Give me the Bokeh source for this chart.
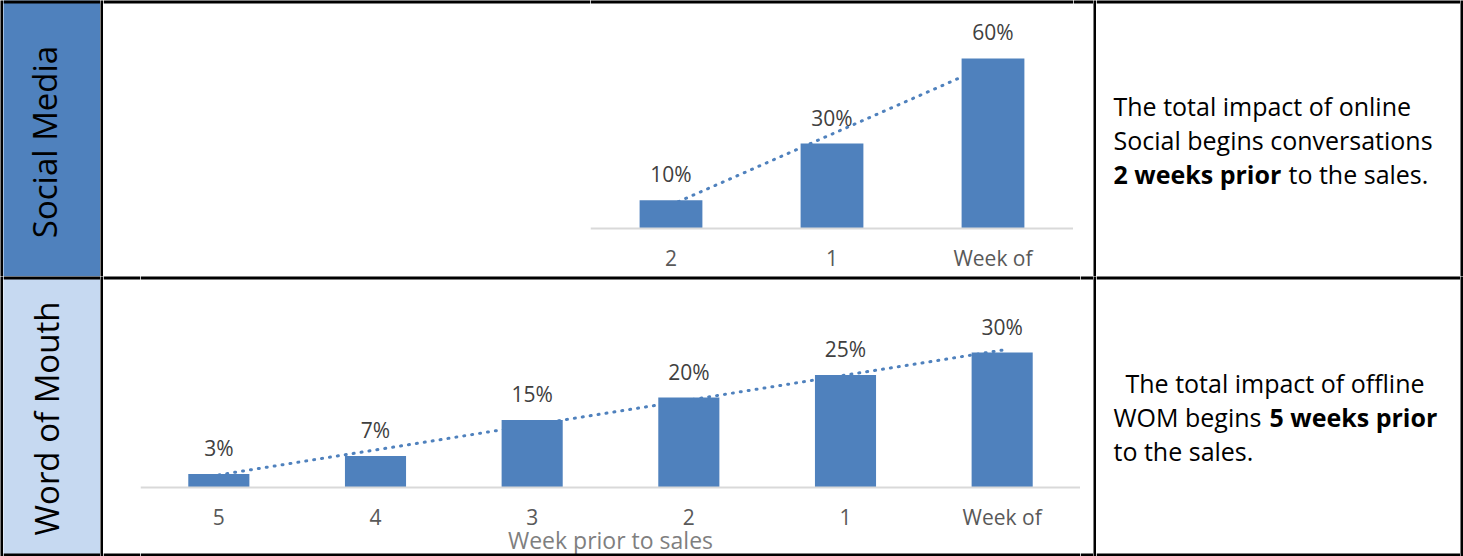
import numpy as np
from bokeh.plotting import figure
from bokeh.layouts import column, row
from bokeh.models import FactorRange, Range1d, Span
from bokeh.core.properties import value
from bokeh.embed import file_html
from bokeh.resources import INLINE

# ---------------- data ----------------
sm_weeks = ["2", "1", "Week of"]
sm_values = [10, 30, 60]
sm_labels = ["10%", "30%", "60%"]

wom_weeks = ["5", "4", "3", "2", "1", "Week of"]
wom_values = [3, 7, 15, 20, 25, 30]
wom_labels = ["3%", "7%", "15%", "20%", "25%", "30%"]

row_titles = ["Social Media", "Word of Mouth"]
axis_title = "Week prior to sales"

FONT = "Open Sans"
BAR = "#4F81BD"
LIGHT = "#C6D9F1"

H1, H2 = 276, 280   # row heights incl. their horizontal rules


def rules(p, top, bottom=None):
    p.add_layout(Span(location=top, dimension="width", line_color="black",
                      line_width=6))
    if bottom is not None:
        p.add_layout(Span(location=bottom, dimension="width",
                          line_color="black", line_width=6))


def blank(w, h, fill, last=False):
    p = figure(width=w, height=h, x_axis_type=None, y_axis_type=None,
               toolbar_location=None, output_backend="svg", min_border=0,
               outline_line_color=None, background_fill_color=fill,
               border_fill_color=fill, x_range=Range1d(0, w),
               y_range=Range1d(h, 0))
    if fill != "#000000":
        rules(p, 0, h if last else None)
    return p


def label_cell(w, h, fill, title, cx, cy, last=False):
    p = blank(w, h, fill, last)
    p.text(x=[cx], y=[cy], text=[title], angle=np.pi / 2,
           text_align="center", text_baseline="middle",
           text_font=value(FONT), text_font_size="33px", text_color="#000000")
    return p


def chart(w, h, cats, vals, labels, y0, y1, last=False, xlabel=None):
    p = figure(width=w, height=h, x_range=FactorRange(*cats),
               y_range=Range1d(y0, y1), y_axis_type=None,
               toolbar_location=None, output_backend="svg", min_border=0,
               outline_line_color=None, background_fill_color="white",
               border_fill_color="white")
    idx = np.arange(1, len(vals) + 1)
    k, b = np.polyfit(idx, vals, 1)
    p.line(x=[cats[0], cats[-1]], y=[k * 1 + b, k * len(vals) + b],
           line_color=BAR, line_width=3, line_dash="1 7", line_cap="round")
    p.vbar(x=cats, top=vals, width=0.39, fill_color=BAR, line_color=None)
    p.text(x=cats, y=vals, text=labels, y_offset=-26, text_align="center",
           text_baseline="middle", text_font=value(FONT),
           text_font_size="21px", text_color="#404040")
    ax = p.xaxis[0]
    ax.fixed_location = 0
    ax.axis_line_color = "#D9D9D9"
    ax.axis_line_width = 2
    ax.major_tick_line_color = None
    ax.minor_tick_line_color = None
    ax.major_label_text_font = FONT
    ax.major_label_text_font_size = "21px"
    ax.major_label_text_color = "#595959"
    ax.major_label_standoff = 9
    if xlabel:
        ax.axis_label = xlabel
        ax.axis_label_text_font = FONT
        ax.axis_label_text_font_size = "23px"
        ax.axis_label_text_font_style = "normal"
        ax.axis_label_text_color = "#7F7F7F"
        ax.axis_label_standoff = -10
    p.xgrid.visible = False
    rules(p, y1, y0 if last else None)
    return p


def text_cell(w, h, pieces, last=False):
    p = blank(w, h, "white", last)
    for txt, x, y, bold in pieces:
        p.text(x=[x], y=[y], text=[txt], text_align="left",
               text_baseline="middle", text_font=value(FONT),
               text_font_size="25px", text_color="#000000",
               text_font_style="bold" if bold else "normal")
    return p


def vb(h):
    return blank(3, h, "#000000")


# ---------------- row 1: Social Media ----------------
f11 = label_cell(97, H1, BAR, row_titles[0], 41, 141.5)
f12 = row(blank(487, H1, "white"),
          chart(483, H1, sm_weeks, sm_values, sm_labels, -16.94, 80.47),
          blank(20, H1, "white"))
f13 = text_cell(364, H1, [
    ("The total impact of online", 17, 105, False),
    ("Social begins conversations", 17, 139, False),
    ("2 weeks prior", 17, 173, True),
    ("to the sales.", 192, 173, False),
])

# ---------------- row 2: Word of Mouth ----------------
f21 = label_cell(97, H2, LIGHT, row_titles[1], 43, 142, last=True)
f22 = row(blank(37, H2, "white", last=True),
          chart(940, H2, wom_weeks, wom_values, wom_labels, -15.33, 46.89,
                last=True, xlabel=axis_title),
          blank(13, H2, "white", last=True))
f23 = text_cell(364, H2, [
    ("The total impact of offline", 29, 106, False),
    ("WOM begins", 17, 140, False),
    ("5 weeks prior", 173, 140, True),
    ("to the sales.", 17, 174, False),
], last=True)

layout = column(
    row(vb(H1), f11, vb(H1), f12, vb(H1), f13, vb(H1)),
    row(vb(H2), f21, vb(H2), f22, vb(H2), f23, vb(H2)),
)

open("out.html", "w").write(file_html(layout, INLINE))
